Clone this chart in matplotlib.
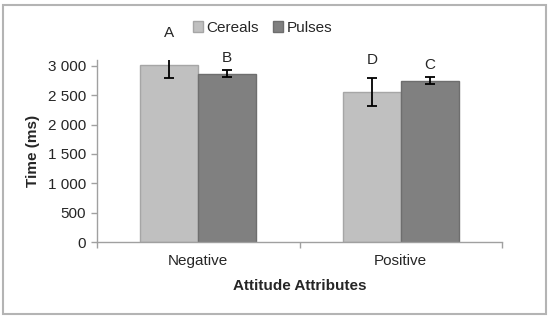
import matplotlib
matplotlib.use("Agg")
import matplotlib.pyplot as plt
from matplotlib.patches import Rectangle
from matplotlib.ticker import FuncFormatter, FixedLocator
import numpy as np

plt.rcParams['font.family'] = ['Liberation Sans', 'DejaVu Sans']

categories = ['Negative', 'Positive']
series = ['Cereals', 'Pulses']
cereals = [3015, 2555]
pulses = [2867, 2748]
cereals_err = [230, 233]
pulses_err = [62, 63]
cereals_letters = ['A', 'D']
pulses_letters = ['B', 'C']
# letter offsets above the error bar tops, in points
cereals_off = [13.4, 13.2]
pulses_off = [8.7, 8.7]

colors = ['#c0c0c0', '#808080']
edges = ['#a6a6a6', '#6e6e6e']
axis_gray = '#a0a0a0'
text_col = '#262626'
fs = 11

fig = plt.figure(figsize=(5.5, 3.2), dpi=100)
ax = fig.add_axes([0.1764, 0.24375, 0.7363, 0.56875])

x = np.arange(len(categories))
w = 0.2857

groups = [(cereals, cereals_err, cereals_letters, cereals_off),
          (pulses, pulses_err, pulses_letters, pulses_off)]
for i, (vals, errs, letters, offs) in enumerate(groups):
    pos = x + (i - 0.5) * w
    ax.bar(pos, vals, w, color=colors[i], edgecolor=edges[i], linewidth=1.0,
           label=series[i], zorder=2)
    ax.errorbar(pos, vals, yerr=errs, fmt='none', ecolor='black',
                elinewidth=1.3, capsize=3.5, capthick=1.3, zorder=3)
    for p, v, e, l, o in zip(pos, vals, errs, letters, offs):
        ax.annotate(l, (p, v + e), xytext=(0, o), textcoords='offset points',
                    ha='center', va='center', fontsize=fs, color=text_col,
                    annotation_clip=False)

ax.set_xlim(-0.5, 1.5)
ax.set_ylim(0, 3100)
ax.set_yticks(np.arange(0, 3001, 500))
ax.yaxis.set_major_formatter(FuncFormatter(lambda v, p: f"{int(v):,}".replace(',', ' ')))
ax.set_xticks(x)
ax.set_xticklabels(categories)
ax.xaxis.set_minor_locator(FixedLocator([-0.5, 0.5, 1.5]))

for s in ['top', 'right']:
    ax.spines[s].set_visible(False)
for s in ['left', 'bottom']:
    ax.spines[s].set_color(axis_gray)
    ax.spines[s].set_linewidth(1.0)

ax.tick_params(axis='x', which='major', length=0, pad=8.5, labelsize=fs, labelcolor=text_col)
ax.tick_params(axis='x', which='minor', length=4, color=axis_gray, width=1.0)
ax.tick_params(axis='y', length=4, color=axis_gray, width=1.0, pad=4,
               labelsize=fs, labelcolor=text_col)

ax.set_ylabel('Time (ms)', fontsize=fs, fontweight='bold', color=text_col)
ax.yaxis.set_label_coords(-0.141, 0.5)
ax.set_xlabel('Attitude Attributes', fontsize=fs, fontweight='bold', color=text_col)
ax.xaxis.set_label_coords(0.5, -0.205)

fig.legend(loc='center', bbox_to_anchor=(0.477, 0.912), ncol=2, frameon=False,
           fontsize=11, handlelength=0.7, handleheight=0.7, handletextpad=0.2,
           columnspacing=0.9, labelcolor=text_col)

fig.patches.append(Rectangle((3 / 550, 1 - 314 / 320), 543 / 550, 309.5 / 320,
                             transform=fig.transFigure, fill=False,
                             edgecolor='#b4b4b4', linewidth=1.5))

fig.savefig('out.png', dpi=100)
